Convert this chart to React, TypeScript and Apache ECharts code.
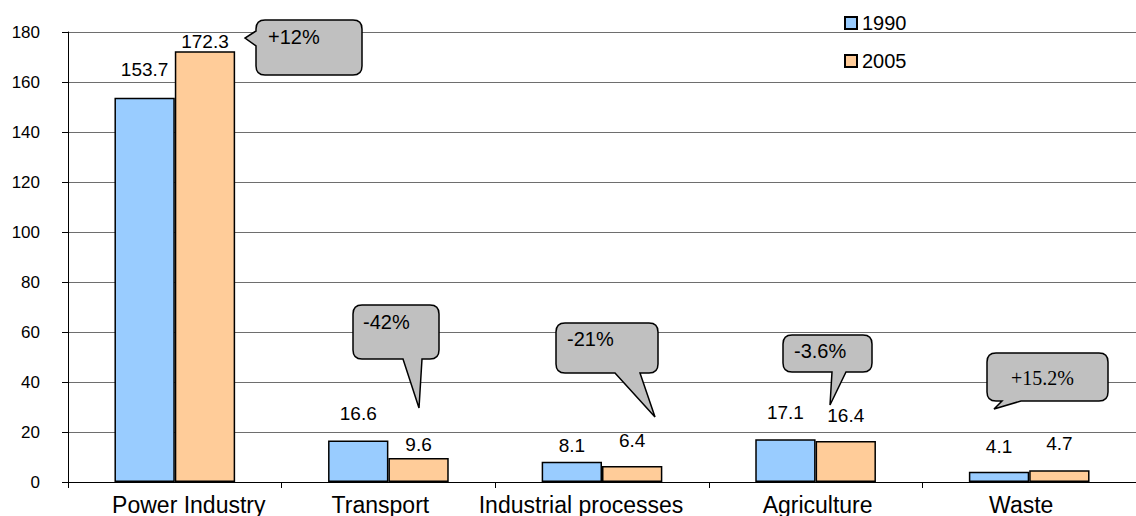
import React, { useEffect, useRef } from "react";
import * as echarts from "echarts";

// ---- data ----
const CATEGORIES = ["Power Industry", "Transport", "Industrial processes", "Agriculture", "Waste"];
const SERIES_NAMES = ["1990", "2005"];
const VALUES_1990 = [153.7, 16.6, 8.1, 17.1, 4.1];
const VALUES_2005 = [172.3, 9.6, 6.4, 16.4, 4.7];
const CHANGE_TEXTS = ["+12%", "-42%", "-21%", "-3.6%", "+15.2%"];
const Y_MIN = 0;
const Y_MAX = 180;
const Y_STEP = 20;

// ---- layout / style (not data) ----
const LIFT_1990 = [19, 18, 7, 17, 16];
const LIFT_2005 = [0, 4, 16, 16, 17];
const CAT_LABEL_SHIFT = [14, -8, -21, 2, -8];
const COLORS = ["#99CCFF", "#FFCC99"];
const SANS = "'Liberation Sans', Arial, sans-serif";
const SERIF = "'Liberation Serif', 'Times New Roman', serif";

type Callout = {
  box: [number, number, number, number];
  side: "left" | "bottom";
  a: number;
  b: number;
  tip: [number, number];
  textX: number;
  textY: number;
  font: string;
};

const CALLOUTS: Callout[] = [
  { box: [256, 20, 362, 75], side: "left", a: 31, b: 46, tip: [245, 38], textX: 268, textY: 37, font: SANS },
  { box: [353, 305, 439, 359], side: "bottom", a: 403, b: 422, tip: [419, 408], textX: 363, textY: 322, font: SANS },
  { box: [556, 323, 658, 373], side: "bottom", a: 615, b: 640, tip: [655, 417], textX: 567, textY: 339, font: SANS },
  { box: [783, 335, 872, 372], side: "bottom", a: 832, b: 846, tip: [830, 405], textX: 794, textY: 351, font: SANS },
  { box: [987, 353, 1108, 401], side: "bottom", a: 1002, b: 1021, tip: [994, 409], textX: 1011, textY: 378, font: SERIF },
];

function calloutPath(c: Callout): string {
  const [x0, y0, x1, y1] = c.box;
  const r = 9;
  const [tx, ty] = c.tip;
  let d = `M${x0 + r} ${y0} L${x1 - r} ${y0} Q${x1} ${y0} ${x1} ${y0 + r} L${x1} ${y1 - r} Q${x1} ${y1} ${x1 - r} ${y1} `;
  if (c.side === "bottom") {
    d += `L${c.b} ${y1} L${tx} ${ty} L${c.a} ${y1} `;
  }
  d += `L${x0 + r} ${y1} Q${x0} ${y1} ${x0} ${y1 - r} `;
  if (c.side === "left") {
    d += `L${x0} ${c.b} L${tx} ${ty} L${x0} ${c.a} `;
  }
  d += `L${x0} ${y0 + r} Q${x0} ${y0} ${x0 + r} ${y0} Z`;
  return d;
}

CALLOUTS.forEach((c, i) => {
  echarts.graphic.registerShape("callout" + i, echarts.graphic.extendPath(calloutPath(c), {}));
});

function buildSeriesData(values: number[], lifts: number[]) {
  return values.map((v, i) => ({ value: v, label: { distance: lifts[i] } }));
}

const catRich: Record<string, any> = {};
CAT_LABEL_SHIFT.forEach((s, i) => {
  catRich["c" + i] = {
    fontSize: 23,
    fontFamily: SANS,
    color: "#000000",
    padding: s >= 0 ? [0, 0, 0, 2 * s] : [0, -2 * s, 0, 0],
  };
});

export default function App() {
  const ref = useRef<HTMLDivElement>(null);

  useEffect(() => {
    if (!ref.current) return;
    const chart = echarts.init(ref.current, null, { renderer: "svg" });

    const graphics: any[] = [];
    CALLOUTS.forEach((c, i) => {
      graphics.push({
        type: "callout" + i,
        x: 0,
        y: 0,
        z: 100,
        style: { fill: "#C0C0C0", stroke: "#000000", lineWidth: 1.5 },
      });
      graphics.push({
        type: "text",
        x: c.textX,
        y: c.textY,
        z: 101,
        style: {
          text: CHANGE_TEXTS[i],
          fontSize: 20,
          fontFamily: c.font,
          fill: "#000000",
          verticalAlign: "middle",
          align: "left",
        },
      });
    });

    const labelCfg = {
      show: true,
      position: "top",
      fontSize: 19,
      fontFamily: SANS,
      color: "#000000",
      formatter: (p: any) => Number(p.value).toFixed(1),
    };

    chart.setOption({
      animation: false,
      backgroundColor: "#ffffff",
      textStyle: { fontFamily: SANS },
      grid: { left: 68, top: 32, width: 1080, height: 450, containLabel: false },
      legend: {
        orient: "vertical",
        left: 844,
        top: 13,
        padding: 0,
        itemWidth: 12,
        itemHeight: 12,
        itemGap: 18,
        icon: "rect",
        textStyle: { fontSize: 20, fontFamily: SANS, color: "#000000", lineHeight: 20 },
        data: SERIES_NAMES,
      },
      xAxis: {
        type: "category",
        data: CATEGORIES,
        axisLine: { show: true, lineStyle: { color: "#000000", width: 1 } },
        axisTick: { show: true, length: 6, alignWithLabel: false, lineStyle: { color: "#000000" } },
        axisLabel: {
          fontSize: 23,
          fontFamily: SANS,
          color: "#000000",
          margin: 11,
          interval: 0,
          formatter: (v: string, i: number) => `{c${i}|${v}}`,
          rich: catRich,
        },
        splitLine: { show: false },
      },
      yAxis: {
        type: "value",
        min: Y_MIN,
        max: Y_MAX,
        interval: Y_STEP,
        axisLine: { show: true, lineStyle: { color: "#000000", width: 1 } },
        axisTick: { show: true, length: 6, inside: false, lineStyle: { color: "#000000" } },
        axisLabel: { fontSize: 17, fontFamily: SANS, color: "#000000", margin: 28 },
        splitLine: { show: true, lineStyle: { color: "#6e6e6e", width: 1 } },
      },
      series: [
        {
          name: SERIES_NAMES[0],
          type: "bar",
          data: buildSeriesData(VALUES_1990, LIFT_1990),
          barGap: "0%",
          barCategoryGap: "43.5%",
          itemStyle: { color: COLORS[0], borderColor: "#000000", borderWidth: 1.5 },
          label: labelCfg,
        },
        {
          name: SERIES_NAMES[1],
          type: "bar",
          data: buildSeriesData(VALUES_2005, LIFT_2005),
          barGap: "0%",
          barCategoryGap: "43.5%",
          itemStyle: { color: COLORS[1], borderColor: "#000000", borderWidth: 1.5 },
          label: labelCfg,
        },
      ],
      graphic: graphics,
    });

    return () => {
      chart.dispose();
    };
  }, []);

  return (
    <div
      ref={ref}
      style={{ position: "fixed", left: 0, top: 0, width: 1136, height: 516, background: "#ffffff" }}
    />
  );
}
